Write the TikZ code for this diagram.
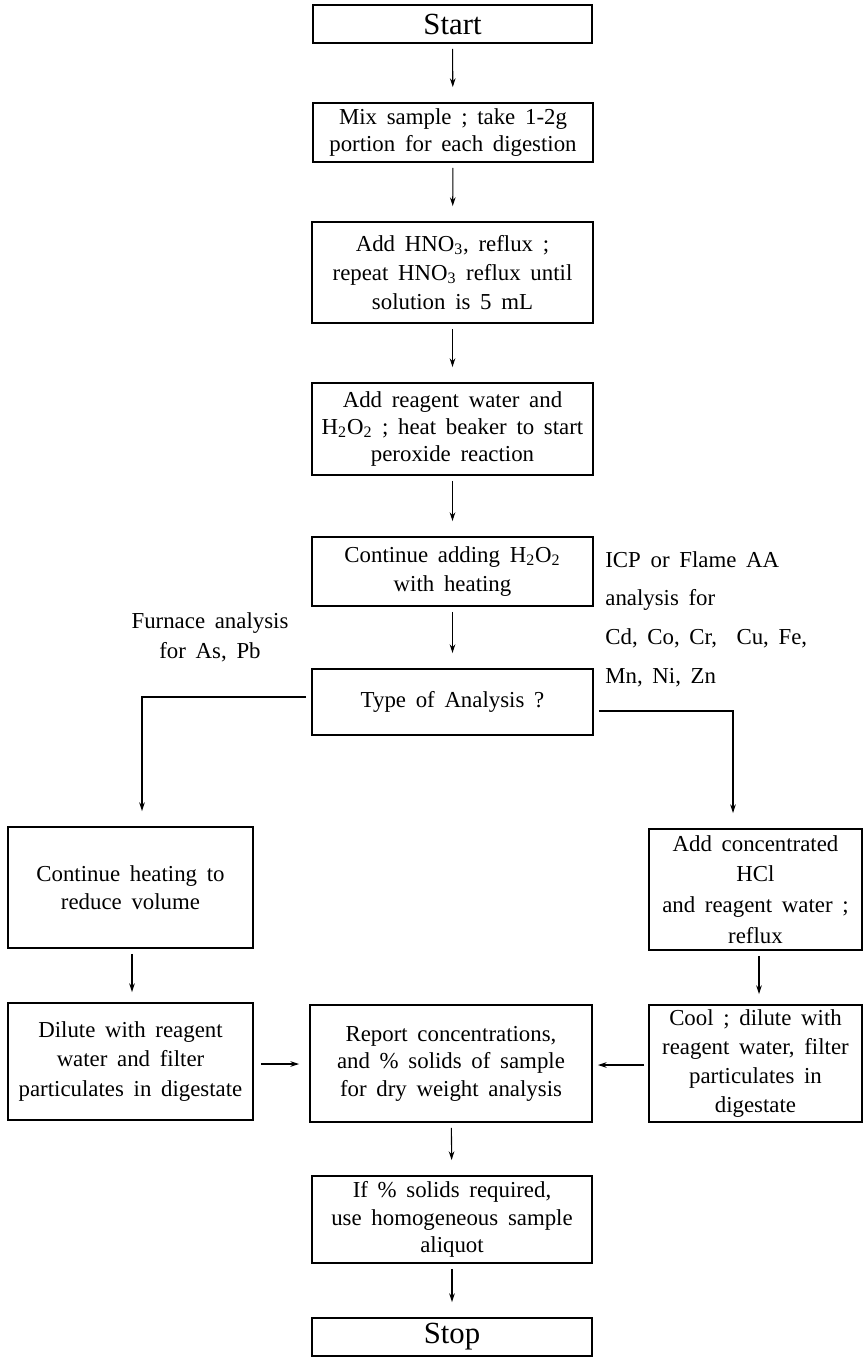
\documentclass[tikz,border=0pt]{standalone}
\usepackage{fontspec}
\setmainfont[WordSpace=1.7]{Liberation Serif}
\usetikzlibrary{arrows.meta}

\tikzset{
  box/.style={draw, line width=1.1pt, align=center, inner sep=2pt,
    font=\fontsize{13}{15.6}\selectfont},
  endbox/.style={box, font=\fontsize{17.5}{20}\selectfont},
  flow/.style={-{Stealth[length=5pt,width=3.2pt]}, line width=0.6pt,
    shorten <=0.1cm, shorten >=0.3cm},
  note/.style={inner sep=0pt},
}

\begin{document}
\begin{tikzpicture}[x=0.02cm,y=-0.02cm]
\useasboundingbox (0,0) rectangle (863,1359);
\node[endbox, minimum width=5.58cm, minimum height=0.76cm] (start) at (452.5,24) {Start};
\node[box, minimum width=5.6cm, minimum height=1.18cm] (mix) at (453,132.5) {Mix sample ; take 1-2g\\portion for each digestion};
\node[box, minimum width=5.62cm, minimum height=2.02cm, font=\fontsize{13}{16.5}\selectfont] (hno) at (452.5,272.5) {Add HNO\textsubscript{3}, reflux ;\\repeat HNO\textsubscript{3} reflux until\\solution is 5 mL};
\node[box, minimum width=5.62cm, minimum height=1.84cm] (peroxide) at (452.5,429) {Add reagent water and\\H\textsubscript{2}O\textsubscript{2} ; heat beaker to start\\peroxide reaction};
\node[box, minimum width=5.62cm, minimum height=1.38cm, font=\fontsize{13}{17}\selectfont] (adding) at (452.5,571.5) {Continue adding H\textsubscript{2}O\textsubscript{2}\\with heating};
\node[box, minimum width=5.62cm, minimum height=1.32cm] (type) at (452.5,702) {Type of Analysis ?};
\node[note, align=center, font=\fontsize{13}{17}\selectfont] (furnace) at (210,637) {Furnace analysis\\for As, Pb};
\node[note, align=left, anchor=west, font=\fontsize{13}{22}\selectfont] (icp) at (605,619) {ICP or Flame AA\\analysis for\\Cd, Co, Cr,\ \ Cu, Fe,\\Mn, Ni, Zn};
\node[box, minimum width=4.9cm, minimum height=2.42cm] (heating) at (130.5,887.5) {Continue heating to\\reduce volume};
\node[box, minimum width=4.26cm, minimum height=2.42cm, font=\fontsize{13}{17.5}\selectfont] (hcl) at (755.5,889.5) {Add concentrated\\HCl\\and reagent water ;\\reflux};
\node[box, minimum width=4.9cm, minimum height=2.34cm, font=\fontsize{13}{17}\selectfont] (dilute) at (130.5,1061.5) {Dilute with reagent\\water and filter\\particulates in digestate};
\node[box, minimum width=5.64cm, minimum height=2.34cm] (report) at (451,1063.5) {Report concentrations,\\and \% solids of sample\\for dry weight analysis};
\node[box, minimum width=4.26cm, minimum height=2.34cm, font=\fontsize{13}{16.4}\selectfont] (cool) at (755.5,1063.5) {Cool ; dilute with\\reagent water, filter\\particulates in\\digestate};
\node[box, minimum width=5.6cm, minimum height=1.74cm] (solids) at (452,1219.5) {If \% solids required,\\use homogeneous sample\\aliquot};
\node[endbox, minimum width=5.6cm, minimum height=0.76cm] (stop) at (452,1337) {Stop};
\coordinate (lbend) at (142,697);
\coordinate (rbend) at (733,711);
\draw[flow] (start) -- (mix);
\draw[flow] (mix) -- (hno);
\draw[flow] (hno) -- (peroxide);
\draw[flow] (peroxide) -- (adding);
\draw[flow] (adding) -- (type);
\draw[flow] (type.west |- lbend) -- (lbend) -- (lbend |- heating.north);
\draw[flow] (type.east |- rbend) -- (rbend) -- (rbend |- hcl.north);
\draw[flow, shorten >=0.2cm] (heating.south -| 132,0) -- (dilute.north -| 132,0);
\draw[flow, shorten >=0.2cm] (hcl.south -| 759,0) -- (cool.north -| 759,0);
\draw[flow, shorten <=0.14cm, shorten >=0.2cm] (dilute.east |- 0,1064) -- (report.west |- 0,1064);
\draw[flow, shorten <=0.08cm, shorten >=0.1cm] (cool.west |- 0,1065) -- (report.east |- 0,1065);
\draw[flow] (report) -- (solids);
\draw[flow] (solids) -- (stop);
\end{tikzpicture}
\end{document}
